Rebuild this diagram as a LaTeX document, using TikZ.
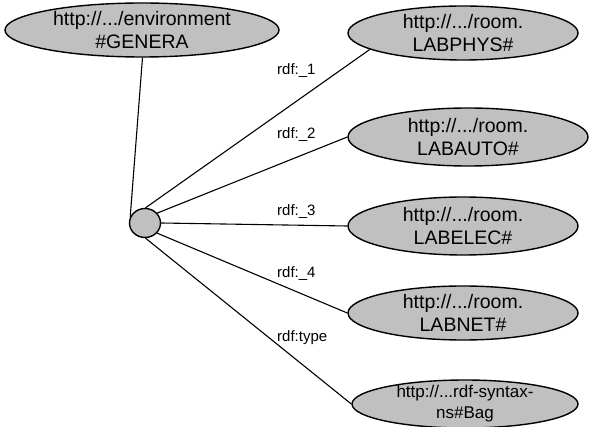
\documentclass[tikz,border=0pt]{standalone}
\usepackage{fontspec}
\setmainfont{Liberation Sans}
\usetikzlibrary{shapes.geometric}
\definecolor{resgray}{RGB}{192,192,192}
\begin{document}
\begin{tikzpicture}[x=1pt,y=-1pt,
  res/.style={ellipse, draw=black, line width=1.4pt, fill=resgray, inner sep=0pt},
  restext/.style={align=center, font=\fontsize{19.5}{22.5}\selectfont, inner sep=0pt},
  smalltext/.style={align=center, font=\fontsize{17}{21}\selectfont, inner sep=0pt},
  arc/.style={line width=1.1pt},
  prop/.style={anchor=base west, font=\fontsize{15}{18}\selectfont, inner sep=0pt}]
\useasboundingbox (0,0) rectangle (591,427);

% resources
\node[res, minimum width=274pt, minimum height=54pt,
  label={[restext]center:{http://.../environment\\\#GENERA}}] (env) at (142,30) {};
\node[res, minimum width=31pt, minimum height=29pt] (bagnode) at (145,223) {};
\node[res, minimum width=230pt, minimum height=54pt,
  label={[restext]center:{http://.../room.\\LABPHYS\#}}] (phys) at (463,33) {};
\node[res, minimum width=240pt, minimum height=58pt,
  label={[restext]center:{http://.../room.\\LABAUTO\#}}] (auto) at (468,137) {};
\node[res, minimum width=230pt, minimum height=58pt,
  label={[restext]center:{http://.../room.\\LABELEC\#}}] (elec) at (463,226) {};
\node[res, minimum width=230pt, minimum height=54pt,
  label={[restext]center:{http://.../room.\\LABNET\#}}] (net) at (463,313) {};
\node[res, minimum width=226pt, minimum height=48pt,
  label={[smalltext]center:{http://...rdf-syntax-\\ns\#Bag}}] (bag) at (465,404) {};

% properties
\draw[arc] (bagnode.157) -- (env.-89);
\draw[arc] (bagnode.88) -- (phys.190);
\draw[arc] (bagnode.39) -- (auto.west);
\draw[arc] (bagnode.0) -- (elec.west);
\draw[arc] (bagnode.-40) -- (net.west);
\draw[arc] (bagnode.-88) -- (bag.west);

% property labels
\node[prop] (l1) at (277,75) {rdf:\_1};
\node[prop] (l2) at (277,139) {rdf:\_2};
\node[prop] (l3) at (277,216) {rdf:\_3};
\node[prop] (l4) at (277,278) {rdf:\_4};
\node[prop] (l5) at (277,341) {rdf:type};
\end{tikzpicture}
\end{document}
